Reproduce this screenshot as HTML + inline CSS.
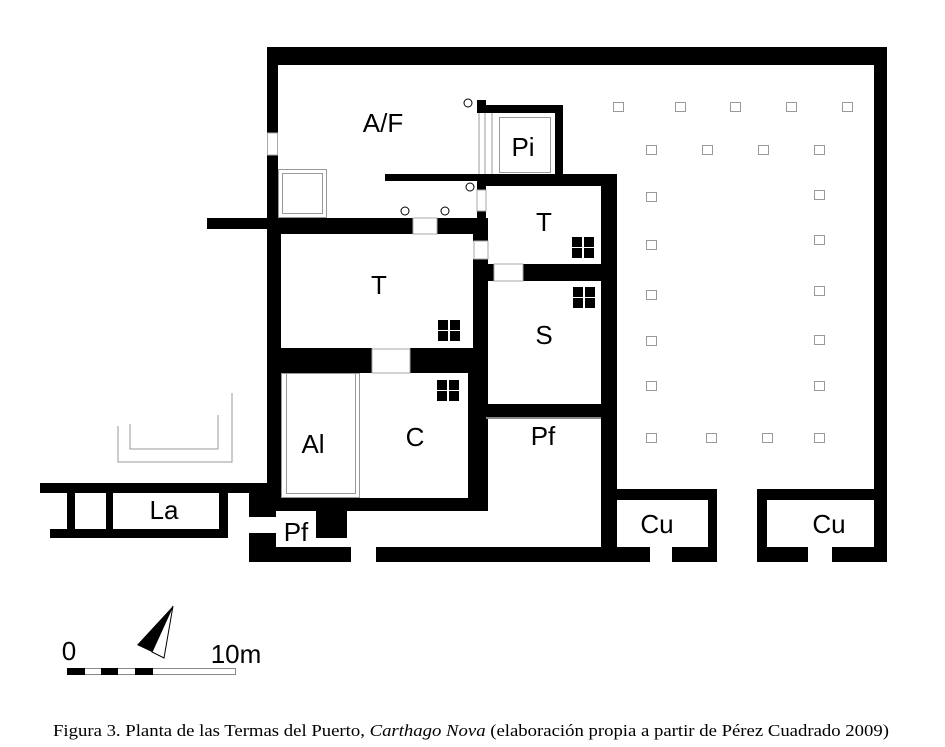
<!DOCTYPE html>
<html><head><meta charset="utf-8"><style>
html,body{margin:0;padding:0;background:#fff;width:945px;height:747px;overflow:hidden}
svg{display:block}
</style></head><body>
<svg width="945" height="747" viewBox="0 0 945 747" xmlns="http://www.w3.org/2000/svg">
<g fill="#000">
<rect x="267" y="47" width="620" height="18"/>
<rect x="874" y="47" width="13" height="515"/>
<rect x="267" y="47" width="11" height="181"/>
<rect x="207" y="218" width="70" height="11"/>
<rect x="267" y="218" width="146" height="16"/>
<rect x="437" y="218" width="40" height="16"/>
<rect x="267" y="218" width="14" height="280"/>
<rect x="385" y="174" width="92" height="7"/>
<rect x="477" y="174" width="140" height="12"/>
<rect x="477" y="100" width="9" height="13"/>
<rect x="477" y="105" width="86" height="8"/>
<rect x="555" y="105" width="8" height="70"/>
<rect x="477" y="174" width="9" height="16"/>
<rect x="477" y="211" width="9" height="12"/>
<rect x="473" y="218" width="15" height="23"/>
<rect x="473" y="259" width="15" height="160"/>
<rect x="601" y="174" width="16" height="388"/>
<rect x="486" y="264" width="8" height="17"/>
<rect x="523" y="264" width="80" height="17"/>
<rect x="267" y="348" width="105" height="25"/>
<rect x="410" y="348" width="78" height="25"/>
<rect x="468" y="348" width="20" height="163"/>
<rect x="486" y="404" width="117" height="14"/>
<rect x="267" y="498" width="221" height="13"/>
<rect x="40" y="483" width="230" height="10"/>
<rect x="50" y="529" width="178" height="9"/>
<rect x="67" y="483" width="8" height="52"/>
<rect x="106" y="483" width="7" height="52"/>
<rect x="219" y="483" width="9" height="52"/>
<rect x="249" y="483" width="27" height="34"/>
<rect x="316" y="505" width="31" height="33"/>
<rect x="249" y="533" width="27" height="29"/>
<rect x="249" y="547" width="102" height="15"/>
<rect x="376" y="547" width="241" height="15"/>
<rect x="601" y="489" width="116" height="11"/>
<rect x="708" y="489" width="9" height="73"/>
<rect x="601" y="547" width="49" height="15"/>
<rect x="672" y="547" width="45" height="15"/>
<rect x="757" y="489" width="125" height="11"/>
<rect x="757" y="489" width="10" height="73"/>
<rect x="757" y="547" width="51" height="15"/>
<rect x="832" y="547" width="55" height="15"/>
</g>
<g fill="#fff" stroke="#aaa" stroke-width="1">
<rect x="267.5" y="133" width="10" height="22"/>
<rect x="413" y="218" width="24" height="16"/>
<rect x="477" y="190" width="9" height="21"/>
<rect x="474" y="241" width="14" height="18"/>
<rect x="494" y="264" width="29" height="17"/>
<rect x="372" y="349" width="38" height="24"/>
</g>
<line x1="486" y1="418" x2="601" y2="418" stroke="#888" stroke-width="2"/>
<g fill="none" stroke="#999" stroke-width="1">
<rect x="278.5" y="169.5" width="48" height="48"/>
<rect x="282.5" y="173.5" width="40" height="40"/>
<rect x="499.5" y="117.5" width="51" height="55"/>
<line x1="479" y1="113" x2="479" y2="174"/>
<line x1="485" y1="113" x2="485" y2="174"/>
<line x1="492" y1="113" x2="492" y2="174"/>
<rect x="281.5" y="373.5" width="78" height="124"/>
<rect x="286.5" y="373.5" width="69" height="120"/>
<polyline points="118,426 118,462 232,462 232,393"/>
<polyline points="130,424 130,449 218,449 218,415"/>
</g>
<g fill="#fff" stroke="#000" stroke-width="1">
<circle cx="468" cy="103" r="4"/>
<circle cx="470" cy="187" r="4"/>
<circle cx="405" cy="211" r="4"/>
<circle cx="445" cy="211" r="4"/>
</g>
<g fill="#000">
<g transform="translate(572,237)"><rect width="10" height="10"/><rect x="12" width="10" height="10"/><rect y="11" width="10" height="10"/><rect x="12" y="11" width="10" height="10"/></g>
<g transform="translate(573,287)"><rect width="10" height="10"/><rect x="12" width="10" height="10"/><rect y="11" width="10" height="10"/><rect x="12" y="11" width="10" height="10"/></g>
<g transform="translate(438,320)"><rect width="10" height="10"/><rect x="12" width="10" height="10"/><rect y="11" width="10" height="10"/><rect x="12" y="11" width="10" height="10"/></g>
<g transform="translate(437,380)"><rect width="10" height="10"/><rect x="12" width="10" height="10"/><rect y="11" width="10" height="10"/><rect x="12" y="11" width="10" height="10"/></g>
</g>
<g fill="#fff" stroke="#999" stroke-width="1">
<rect x="613.5" y="102.5" width="10" height="9"/>
<rect x="675.5" y="102.5" width="10" height="9"/>
<rect x="730.5" y="102.5" width="10" height="9"/>
<rect x="786.5" y="102.5" width="10" height="9"/>
<rect x="842.5" y="102.5" width="10" height="9"/>
<rect x="646.5" y="145.5" width="10" height="9"/>
<rect x="702.5" y="145.5" width="10" height="9"/>
<rect x="758.5" y="145.5" width="10" height="9"/>
<rect x="814.5" y="145.5" width="10" height="9"/>
<rect x="646.5" y="192.5" width="10" height="9"/>
<rect x="646.5" y="240.5" width="10" height="9"/>
<rect x="646.5" y="290.5" width="10" height="9"/>
<rect x="646.5" y="336.5" width="10" height="9"/>
<rect x="646.5" y="381.5" width="10" height="9"/>
<rect x="646.5" y="433.5" width="10" height="9"/>
<rect x="814.5" y="190.5" width="10" height="9"/>
<rect x="814.5" y="235.5" width="10" height="9"/>
<rect x="814.5" y="286.5" width="10" height="9"/>
<rect x="814.5" y="335.5" width="10" height="9"/>
<rect x="814.5" y="381.5" width="10" height="9"/>
<rect x="814.5" y="433.5" width="10" height="9"/>
<rect x="706.5" y="433.5" width="10" height="9"/>
<rect x="762.5" y="433.5" width="10" height="9"/>
</g>
<g font-family="Liberation Sans, sans-serif" font-size="26" fill="#000" text-anchor="middle">
<text x="383" y="132">A/F</text>
<text x="523" y="156">Pi</text>
<text x="544" y="231">T</text>
<text x="379" y="294">T</text>
<text x="544" y="344">S</text>
<text x="313" y="453">Al</text>
<text x="415" y="446">C</text>
<text x="543" y="445">Pf</text>
<text x="164" y="519">La</text>
<text x="296" y="541">Pf</text>
<text x="657" y="533">Cu</text>
<text x="829" y="533">Cu</text>
<text x="69" y="660">0</text>
<text x="236" y="663">10m</text>
</g>
<rect x="67.5" y="668.5" width="168" height="6" fill="#fff" stroke="#888" stroke-width="1"/>
<g fill="#000"><rect x="67" y="668" width="18" height="7"/><rect x="101" y="668" width="17" height="7"/><rect x="135" y="668" width="18" height="7"/></g>
<polygon points="173,606 137,645 152,652" fill="#000"/>
<polygon points="173,606 152,652 164,658" fill="#fff" stroke="#000" stroke-width="1"/>
<text x="53" y="736" font-family="Liberation Serif, serif" font-size="17" textLength="836" lengthAdjust="spacingAndGlyphs" fill="#000">Figura 3. Planta de las Termas del Puerto, <tspan font-style="italic">Carthago Nova</tspan> (elaboración propia a partir de Pérez Cuadrado 2009)</text>
</svg>
</body></html>
